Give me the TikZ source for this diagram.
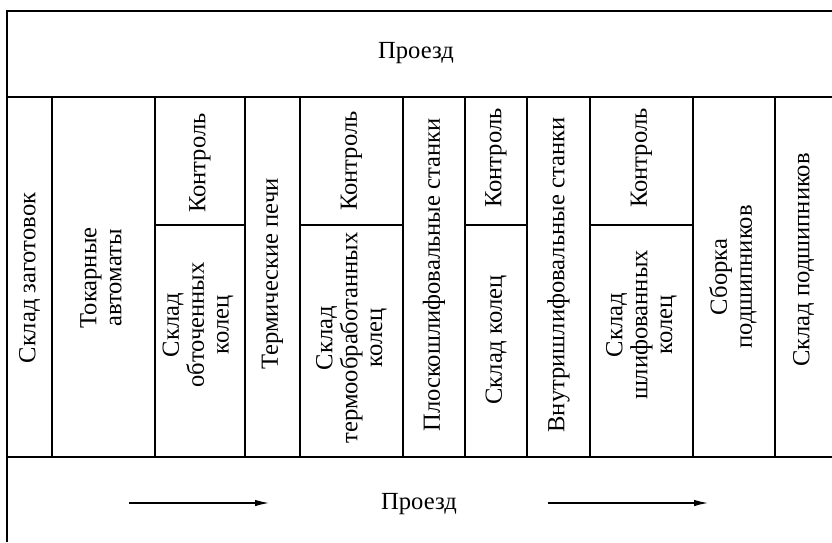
\documentclass[tikz,border=0pt]{standalone}
\usepackage{fontspec}
\setmainfont{Liberation Serif}
\usetikzlibrary{arrows.meta}
\tikzset{>={Latex[length=2.8mm,width=1.3mm]}}
\tikzset{
  wall/.style={line width=1.4pt},
  part/.style={line width=0.8pt},
  lbl/.style={rotate=90, align=center, inner sep=0pt, font=\fontsize{14}{14.2}\selectfont},
  road/.style={inner sep=0pt, font=\fontsize{14}{14.2}\selectfont},
}

\begin{document}
\begin{tikzpicture}[x=0.02cm, y=-0.02cm]
\useasboundingbox (0,0) rectangle (832,542);

 % outer walls and passages
 \draw[wall] (832,11) -- (7,11) -- (7,542);
 \draw[wall] (7,97) -- (832,97);
 \draw[wall] (7,457) -- (832,457);

 \foreach \x in {52,155,245,300,403,465,527,693,775}{
    \draw[part] (\x,97) -- (\x,457);
 }
 \draw[wall] (465,97) -- (465,254);
 \draw[wall] (590,97) -- (590,457);

 \foreach \a/\b in {155/245, 300/403, 465/527, 590/693}{
    \draw[part] (\a,225) -- (\b,225);
 }

 % areas
 \foreach \n/\x/\y/\t in {
    zag/29.5/278/{Склад заготовок},
    tok/101/278/{Токарные\\автоматы},
    kon1/200/163/{Контроль},
    obt/198/325/{Склад\\обточенных\\колец},
    pech/272.5/274/{Термические печи},
    kon2/351.5/161/{Контроль},
    term/351.5/338/{Склад\\термообработанных\\колец},
    plos/434/275/{Плоскошлифовальные станки},
    kon3/496/158/{Контроль},
    kol/496/340/{Склад колец},
    vnut/558.5/275/{Внутришлифовальные станки},
    kon4/641.5/158/{Контроль},
    shl/641.5/325/{Склад\\шлифованных\\колец},
    sbor/733/277/{Сборка\\подшипников},
    podsh/803.5/260/{Склад подшипников}}{
    \node[lbl] (\n) at (\x,\y) {\t};
 }

 % passages
 \node[road] (top) at (416,53) {Проезд};
 \node[road] (bot) at (419,504) {Проезд};
 \coordinate (s1) at (129,503);
 \coordinate (e1) at (269,503);
 \coordinate (s2) at (548,503);
 \coordinate (e2) at (708,503);
 \draw[->, line width=0.7pt] (s1) -- (e1);
 \draw[->, line width=0.7pt] (s2) -- (e2);

\end{tikzpicture}
\end{document}
